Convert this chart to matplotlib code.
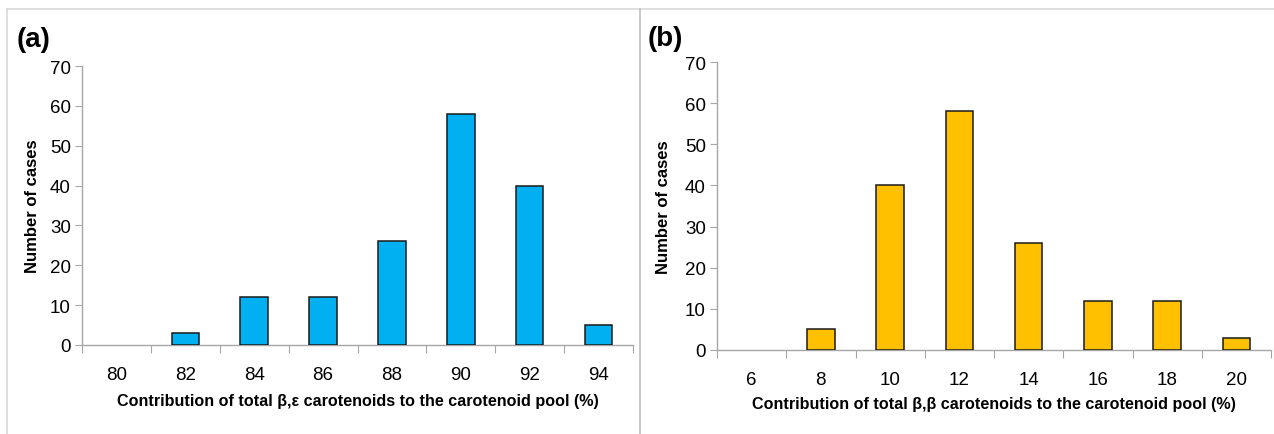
import matplotlib
matplotlib.use('Agg')
import matplotlib.pyplot as plt
import numpy as np
from matplotlib.lines import Line2D

plt.rcParams['font.family'] = ['Liberation Sans', 'DejaVu Sans']

# data
cats_a = ['80', '82', '84', '86', '88', '90', '92', '94']
vals_a = [0, 3, 12, 12, 26, 58, 40, 5]
cats_b = ['6', '8', '10', '12', '14', '16', '18', '20']
vals_b = [0, 5, 40, 58, 26, 12, 12, 3]

xlabel_a = 'Contribution of total β,ε carotenoids to the carotenoid pool (%)'
xlabel_b = 'Contribution of total β,β carotenoids to the carotenoid pool (%)'

W, H = 1274, 435
fig = plt.figure(figsize=(W / 100, H / 100), dpi=100)

SPINE = '#A6A6A6'
FRAME = '#D9D9D9'


def px_box(l, r, b, t):
    return [l / W, 1 - b / H, (r - l) / W, (b - t) / H]


def draw_panel(ax, cats, vals, color, xlabel, ylab_x, xlab_y):
    x = np.arange(len(cats))
    # empty classes get no outline
    edges = ['none' if v == 0 else '#1a1a1a' for v in vals]
    ax.bar(x, vals, width=0.4, color=color, edgecolor=edges, linewidth=1.1, zorder=3)
    ax.set_xlim(-0.5, len(cats) - 0.5)
    ax.set_ylim(0, 70)
    ax.set_yticks(np.arange(0, 71, 10))
    ax.tick_params(axis='y', labelsize=13.5, length=5, color=SPINE, pad=3)
    ax.set_xticks(np.arange(-0.5, len(cats), 1))
    ax.set_xticklabels([''] * (len(cats) + 1))
    ax.set_xticks(x, minor=True)
    ax.set_xticklabels(cats, minor=True)
    ax.tick_params(axis='x', which='major', length=6, color=SPINE)
    ax.tick_params(axis='x', which='minor', length=0, labelsize=13.5, pad=15)
    for s in ['top', 'right']:
        ax.spines[s].set_visible(False)
    for s in ['left', 'bottom']:
        ax.spines[s].set_color(SPINE)
        ax.spines[s].set_linewidth(1.0)
    ax.set_ylabel('Number of cases', fontsize=12, fontweight='bold')
    ax.yaxis.set_label_coords(ylab_x, 0.5)
    ax.set_xlabel(xlabel, fontsize=11.6, fontweight='bold')
    ax.xaxis.set_label_coords(0.5, xlab_y)


ax1 = fig.add_axes(px_box(82, 633, 346, 67))
draw_panel(ax1, cats_a, vals_a, '#00B0F0', xlabel_a, -0.076, -0.172)

ax2 = fig.add_axes(px_box(717, 1271, 351, 63))
draw_panel(ax2, cats_b, vals_b, '#FFC000', xlabel_b, -0.083, -0.16)

# panel frames
fig.add_artist(Line2D([7 / W, 1], [1 - 10 / H] * 2, color=FRAME, lw=1.2))
fig.add_artist(Line2D([7 / W] * 2, [0, 1 - 10 / H], color=FRAME, lw=1.2))
fig.add_artist(Line2D([640 / W] * 2, [0, 1 - 10 / H], color='#BFBFBF', lw=1.2))

fig.text(17 / W, 1 - 40 / H, '(a)', fontsize=20, fontweight='bold', va='center', ha='left')
fig.text(648 / W, 1 - 39 / H, '(b)', fontsize=20, fontweight='bold', va='center', ha='left')

fig.savefig('out.png', dpi=100, facecolor='white')
